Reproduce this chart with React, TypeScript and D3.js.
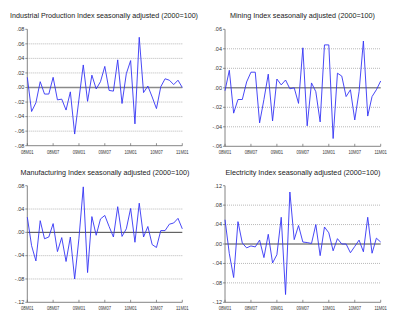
import React from "react";
import * as d3 from "d3";

const xTickLabels = ["08M01", "08M07", "09M01", "09M07", "10M01", "10M07", "11M01"];
const xTickIndex = [0, 6, 12, 18, 24, 30, 36];

const industrial = [0.014, -0.033, -0.021, 0.008, -0.009, -0.009, 0.014, -0.017, -0.016, -0.031, -0.006, -0.064, -0.016, 0.031, -0.019, 0.017, -0.002, 0.008, 0.029, -0.004, -0.005, 0.038, -0.022, 0.019, 0.037, -0.050, 0.069, -0.007, 0.002, -0.013, -0.029, 0.001, 0.012, 0.010, 0.004, 0.010, 0.0];
const mining = [-0.003, 0.018, -0.026, -0.012, -0.012, 0.006, 0.016, 0.016, -0.036, -0.012, 0.014, -0.034, 0.009, 0.003, 0.008, -0.001, 0.0, -0.016, 0.041, -0.039, 0.005, -0.004, -0.035, 0.044, 0.044, -0.052, 0.015, 0.012, -0.009, -0.002, -0.033, -0.004, 0.048, -0.029, -0.009, -0.002, 0.007];
const manufacturing = [0.026, -0.023, -0.049, 0.020, -0.011, -0.008, 0.015, -0.033, -0.009, -0.050, -0.008, -0.080, -0.010, 0.078, -0.069, 0.027, -0.005, 0.023, 0.029, 0.010, -0.008, 0.044, -0.007, 0.006, 0.041, -0.017, 0.050, -0.008, 0.010, -0.021, -0.026, 0.003, 0.003, 0.014, 0.016, 0.024, 0.006];
const electricity = [0.050, -0.020, -0.069, 0.046, 0.002, -0.008, -0.004, -0.006, 0.008, -0.028, 0.020, -0.039, -0.022, 0.055, -0.104, 0.107, 0.009, 0.038, 0.004, 0.003, 0.001, 0.040, -0.024, 0.035, 0.023, -0.014, 0.011, 0.0, 0.0, -0.018, -0.005, 0.008, -0.016, 0.055, -0.019, 0.012, 0.004];

const ticks8 = [0.08, 0.06, 0.04, 0.02, 0, -0.02, -0.04, -0.06, -0.08];
const labels8 = [".08", ".06", ".04", ".02", ".00", "-.02", "-.04", "-.06", "-.08"];
const ticks6 = [0.06, 0.04, 0.02, 0, -0.02, -0.04, -0.06];
const labels6 = [".06", ".04", ".02", ".00", "-.02", "-.04", "-.06"];
const ticks12 = [0.12, 0.08, 0.04, 0, -0.04, -0.08, -0.12];
const labels12 = [".12", ".08", ".04", ".00", "-.04", "-.08", "-.12"];
const ticksManu = [0.08, 0.04, 0, -0.04, -0.08, -0.12];
const labelsManu = [".08", ".04", ".00", "-.04", "-.08", "-.12"];

const titles = [
  "Industrial Production Index seasonally adjusted (2000=100)",
  "Mining Index seasonally adjusted (2000=100)",
  "Manufacturing Index seasonally adjusted (2000=100)",
  "Electricity Index seasonally adjusted (2000=100)",
];

type PanelProps = {
  title: string;
  data: number[];
  ticks: number[];
  labels: string[];
  x0: number;
  x1: number;
  y0: number;
  y1: number;
  titleX: number;
  titleY: number;
  titleLen: number;
  zeroColor: string;
  zeroWidth: number;
};

function Panel(p: PanelProps) {
  const x = d3.scaleLinear().domain([0, 36]).range([p.x0, p.x1]);
  const y = d3
    .scaleLinear()
    .domain([d3.min(p.ticks) as number, d3.max(p.ticks) as number])
    .range([p.y1, p.y0]);
  const line = d3
    .line<number>()
    .x((_, i) => x(i))
    .y((d) => y(d));
  const bottom = y(d3.min(p.ticks) as number);
  return (
    <g>
      <text
        x={p.titleX}
        y={p.titleY}
        textAnchor="middle"
        fontSize={7.5}
        fontFamily="Liberation Sans, Arial, sans-serif"
        fill="#222"
        textLength={p.titleLen}
        lengthAdjust="spacingAndGlyphs"
      >
        {p.title}
      </text>
      {p.ticks.map((t, i) =>
        t !== 0 && i !== 0 && t !== d3.min(p.ticks) ? (
          <line
            key={"g" + i}
            x1={p.x0}
            x2={p.x1}
            y1={y(t)}
            y2={y(t)}
            stroke="#999"
            strokeWidth={0.7}
            strokeDasharray="1,1"
          />
        ) : null
      )}
      <line x1={p.x0} x2={p.x1} y1={y(0)} y2={y(0)} stroke={p.zeroColor} strokeWidth={p.zeroWidth} />
      <line x1={p.x0} x2={p.x0} y1={p.y0} y2={bottom} stroke="#666" strokeWidth={0.8} />
      <line x1={p.x0} x2={p.x1} y1={bottom} y2={bottom} stroke="#666" strokeWidth={0.8} />
      {p.ticks.map((t, i) => (
        <g key={"t" + i}>
          <line x1={p.x0 - 2} x2={p.x0} y1={y(t)} y2={y(t)} stroke="#666" strokeWidth={0.7} />
          <text
            x={p.x0 - 3}
            y={y(t) + 1.8}
            textAnchor="end"
            fontSize={5.5}
            fontFamily="Liberation Sans, Arial, sans-serif"
            fill="#333"
          >
            {p.labels[i]}
          </text>
        </g>
      ))}
      {xTickIndex.map((ti, i) => (
        <g key={"x" + i}>
          <line x1={x(ti)} x2={x(ti)} y1={bottom} y2={bottom - 2.5} stroke="#666" strokeWidth={0.7} />
          <text
            x={x(ti)}
            y={bottom + 8}
            textAnchor="middle"
            fontSize={5.5}
            fontFamily="Liberation Sans, Arial, sans-serif"
            fill="#333"
            textLength={12.5}
            lengthAdjust="spacingAndGlyphs"
          >
            {xTickLabels[i]}
          </text>
        </g>
      ))}
      <path d={line(p.data) || ""} fill="none" stroke="#3434f5" strokeWidth={0.9} strokeLinejoin="round" />
    </g>
  );
}

export default function App() {
  return (
    <svg
      width={400}
      height={325}
      style={{ position: "absolute", left: 0, top: 0, background: "#fff" }}
    >
      <rect width={400} height={325} fill="#fff" />
      <Panel
        title={titles[0]}
        data={industrial}
        ticks={ticks8}
        labels={labels8}
        x0={27.3}
        x1={182.3}
        y0={29.3}
        y1={145.7}
        titleX={104}
        titleY={17.5}
        titleLen={188}
        zeroColor="#8a8a8a"
        zeroWidth={1.4}
      />
      <Panel
        title={titles[1]}
        data={mining}
        ticks={ticks6}
        labels={labels6}
        x0={225}
        x1={380.7}
        y0={29.3}
        y1={146.3}
        titleX={302.5}
        titleY={17.5}
        titleLen={145}
        zeroColor="#8a8a8a"
        zeroWidth={1.4}
      />
      <Panel
        title={titles[2]}
        data={manufacturing}
        ticks={ticksManu}
        labels={labelsManu}
        x0={27.3}
        x1={182.3}
        y0={185.7}
        y1={302.3}
        titleX={105}
        titleY={175}
        titleLen={169}
        zeroColor="#444"
        zeroWidth={1}
      />
      <Panel
        title={titles[3]}
        data={electricity}
        ticks={ticks12}
        labels={labels12}
        x0={225}
        x1={380.7}
        y0={185.7}
        y1={302.3}
        titleX={303}
        titleY={175}
        titleLen={155}
        zeroColor="#444"
        zeroWidth={1}
      />
    </svg>
  );
}
